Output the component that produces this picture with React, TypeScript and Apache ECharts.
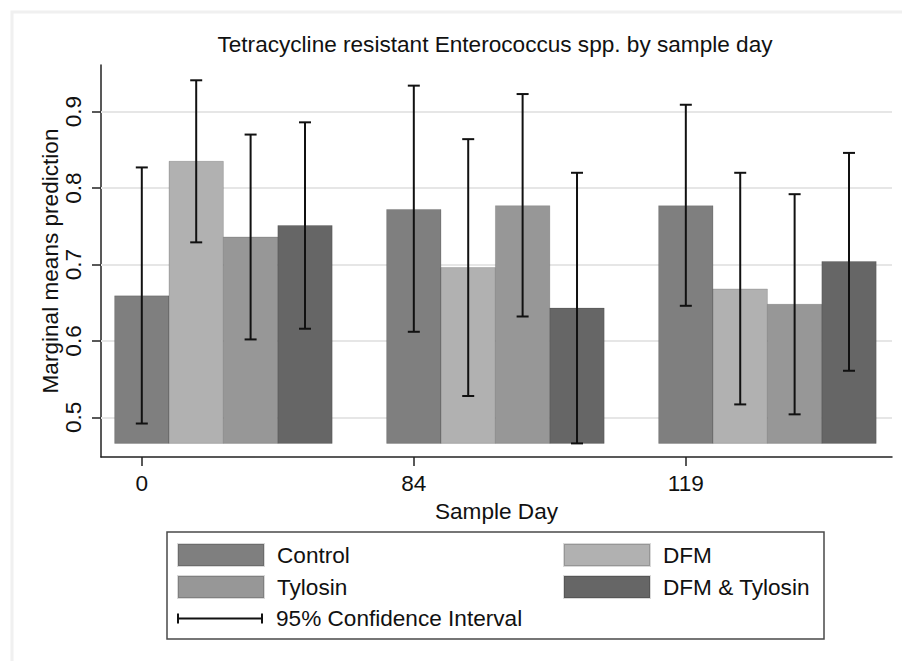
import React, { useEffect, useRef } from "react";
import * as echarts from "echarts";

// ---- data ----
const days = ["0", "84", "119"];
const treatments = ["Control", "DFM", "Tylosin", "DFM & Tylosin"];

const controlMean = [0.659, 0.772, 0.777];
const controlLow = [0.492, 0.612, 0.646];
const controlHigh = [0.827, 0.934, 0.909];

const dfmMean = [0.835, 0.696, 0.668];
const dfmLow = [0.729, 0.528, 0.517];
const dfmHigh = [0.941, 0.864, 0.82];

const tylosinMean = [0.736, 0.777, 0.648];
const tylosinLow = [0.602, 0.632, 0.504];
const tylosinHigh = [0.87, 0.923, 0.792];

const dfmTylosinMean = [0.751, 0.643, 0.704];
const dfmTylosinLow = [0.616, 0.466, 0.561];
const dfmTylosinHigh = [0.886, 0.82, 0.846];

const yTicks = [0.5, 0.6, 0.7, 0.8, 0.9];
const ciName = "95% Confidence Interval";
const titleText = "Tetracycline resistant Enterococcus spp. by sample day";

// ---- styles ----
const colors = ["#7f7f7f", "#b1b1b1", "#979797", "#666666"];
const FONT = '"Liberation Sans", Arial, Helvetica, sans-serif';
const FS = 22.6;
const TXT = "#111";
const BAR_STEP = 0.2;
const BAR_HALF = 0.1;

const means = [controlMean, dfmMean, tylosinMean, dfmTylosinMean];
const lows = [controlLow, dfmLow, tylosinLow, dfmTylosinLow];
const highs = [controlHigh, dfmHigh, tylosinHigh, dfmTylosinHigh];
const barBase = Math.min(...lows.flat());

export default function App() {
  const ref = useRef<HTMLDivElement>(null);
  useEffect(() => {
    document.body.style.margin = "0";
    const chart = echarts.init(ref.current!, null, { renderer: "svg" });

    const barSeries = treatments.map((name, j) => ({
      type: "custom",
      name,
      z: 3,
      itemStyle: { color: colors[j], borderColor: "rgba(0,0,0,0.15)", borderWidth: 1 },
      encode: { x: 0, y: 1 },
      data: means[j].map((v, i) => [i + j * BAR_STEP, v]),
      renderItem: (params: any, api: any) => {
        const x = api.value(0);
        const y = api.value(1);
        const a = api.coord([x - BAR_HALF, barBase]);
        const b = api.coord([x + BAR_HALF, y]);
        return {
          type: "rect",
          shape: { x: a[0], y: b[1], width: b[0] - a[0], height: a[1] - b[1] },
          style: { fill: colors[j], stroke: "rgba(0,0,0,0.15)", lineWidth: 1 },
        };
      },
      ...(j === 0
        ? {
            markLine: {
              silent: true,
              z: 1,
              symbol: "none",
              label: { show: false },
              lineStyle: { color: "#e6e6e6", width: 2, type: "solid" },
              data: yTicks.map((t) => ({ yAxis: t })),
            },
          }
        : {}),
    }));

    const ciData: number[][] = [];
    treatments.forEach((_, j) => {
      days.forEach((_, i) => {
        ciData.push([i + j * BAR_STEP, lows[j][i], highs[j][i]]);
      });
    });

    const errSeries = {
      type: "custom",
      name: ciName,
      z: 4,
      itemStyle: { color: "#111" },
      encode: { x: 0, y: [1, 2] },
      data: ciData,
      renderItem: (params: any, api: any) => {
        const x = api.value(0);
        const pl = api.coord([x, api.value(1)]);
        const ph = api.coord([x, api.value(2)]);
        const st = { stroke: "#111", lineWidth: 2 };
        return {
          type: "group",
          children: [
            { type: "line", shape: { x1: pl[0], y1: pl[1], x2: ph[0], y2: ph[1] }, style: st },
            { type: "line", shape: { x1: pl[0] - 6, y1: pl[1], x2: pl[0] + 6, y2: pl[1] }, style: st },
            { type: "line", shape: { x1: ph[0] - 6, y1: ph[1], x2: ph[0] + 6, y2: ph[1] }, style: st },
          ],
        };
      },
    };

    const legendCommon = {
      orient: "horizontal",
      itemWidth: 86,
      itemHeight: 22,
      padding: 0,
      selectedMode: false,
      icon: "rect",
      textStyle: { fontSize: FS, color: TXT, fontFamily: FONT, padding: [0, 0, 0, 8], lineHeight: 22 },
    };

    const option: any = {
      animation: false,
      backgroundColor: "#ffffff",
      textStyle: { fontFamily: FONT },
      title: {
        text: titleText,
        left: 495,
        top: 33,
        textAlign: "center",
        padding: 0,
        textStyle: { fontSize: FS, fontWeight: "normal", color: TXT, fontFamily: FONT },
      },
      grid: { left: 101, right: 10, top: 65, bottom: 204, containLabel: false },
      xAxis: {
        type: "value",
        min: -0.15,
        max: 2.758,
        name: "Sample Day",
        nameLocation: "middle",
        nameGap: 40,
        nameTextStyle: { fontSize: FS, color: TXT, fontFamily: FONT },
        axisLine: { show: true, onZero: false, lineStyle: { color: "#222", width: 1.5 } },
        axisTick: { show: true, length: 9, customValues: days.map((_, i) => i), lineStyle: { color: "#222", width: 1.5 } },
        axisLabel: {
          customValues: days.map((_, i) => i),
          formatter: (v: number) => days[Math.round(v)],
          fontSize: FS,
          color: TXT,
          margin: 15,
          fontFamily: FONT,
        },
        splitLine: { show: false },
      },
      yAxis: {
        type: "value",
        min: 0.4482,
        max: 0.961,
        name: "Marginal means prediction",
        nameLocation: "middle",
        nameGap: 39,
        nameMoveOverlap: false,
        nameTextStyle: { fontSize: FS, color: TXT, fontFamily: FONT },
        axisLine: { show: true, onZero: false, lineStyle: { color: "#222", width: 1.5 } },
        axisTick: { show: true, length: 9, customValues: yTicks, lineStyle: { color: "#222", width: 1.5 } },
        axisLabel: {
          customValues: yTicks,
          formatter: (v: number) => v.toFixed(1),
          rotate: 90,
          fontSize: FS,
          color: TXT,
          margin: 16,
          fontFamily: FONT,
        },
        splitLine: { show: false },
      },
      legend: [
        { ...legendCommon, data: [treatments[0]], left: 177, top: 543 },
        { ...legendCommon, data: [treatments[1]], left: 563, top: 543 },
        { ...legendCommon, data: [treatments[2]], left: 177, top: 575 },
        { ...legendCommon, data: [treatments[3]], left: 563, top: 575 },
        {
          ...legendCommon,
          data: [ciName],
          left: 177,
          top: 607,
          itemHeight: 10,
          icon: "path://M0,0h2v10h-2z M2,4h82v2h-82z M84,0h2v10h-2z",
        },
      ],
      graphic: [
        {
          type: "rect",
          shape: { x: 12, y: 12, width: 900, height: 660 },
          style: { fill: "rgba(0,0,0,0)", stroke: "#f0f0f0", lineWidth: 3 },
          silent: true,
          z: -10,
        },
        {
          type: "rect",
          shape: { x: 167, y: 532, width: 657, height: 107 },
          style: { fill: "rgba(0,0,0,0)", stroke: "#4a4a4a", lineWidth: 1.5 },
          silent: true,
        },
      ],
      series: [...barSeries, errSeries],
    };

    chart.setOption(option);
    return () => chart.dispose();
  }, []);
  return <div ref={ref} style={{ width: 902, height: 661 }} />;
}
